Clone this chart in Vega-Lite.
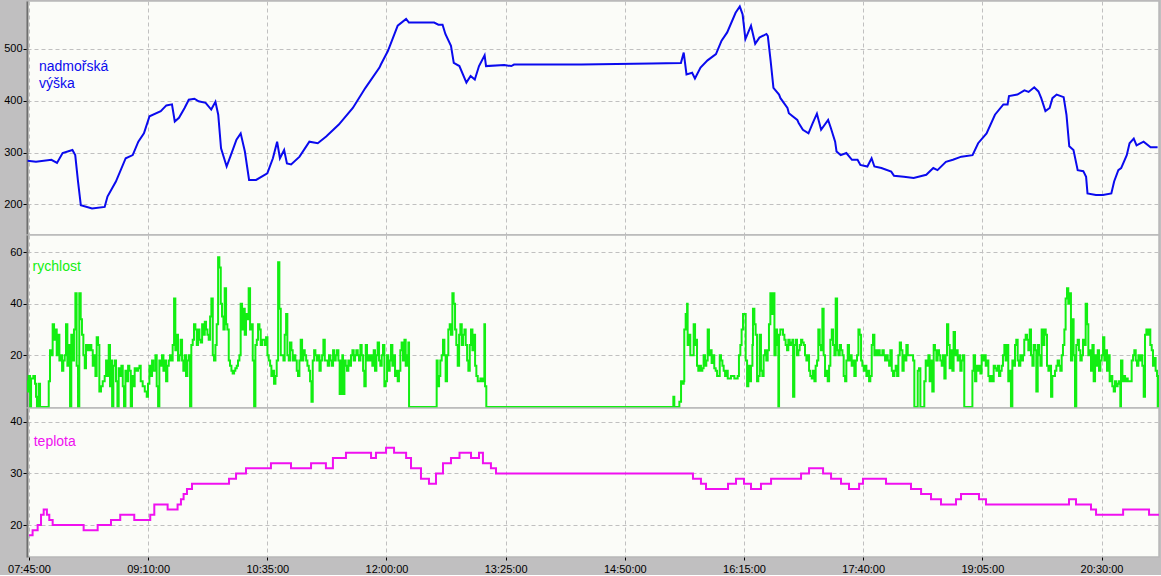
{
"$schema": "https://vega.github.io/schema/vega-lite/v6.json",
"background": "#c0bfc0",
"padding": {"left": 2, "top": 0, "right": 3, "bottom": 0},
"spacing": 0,
"bounds": "flush",
"config": {
  "view": {"fill": "#fbfcf8", "stroke": "#b8b8b8", "strokeWidth": 1.5},
  "axis": {"title": null, "labelFont": "Liberation Sans", "labelFontSize": 11, "labelColor": "#000000", "tickColor": "#000000", "gridColor": "#c0c0c0", "gridDash": [4, 3], "gridWidth": 1},
  "axisY": {"tickSize": 4, "labelPadding": 1, "domain": true, "domainColor": "#6e6e6e", "domainWidth": 2, "minExtent": 24, "maxExtent": 24},
  "concat": {"spacing": 0}
},
"datasets": {
  "alt": [{"t":464,"v":284},{"t":470,"v":282},{"t":481,"v":286},{"t":485,"v":280},{"t":489,"v":299},{"t":496,"v":305},{"t":498,"v":295},{"t":500,"v":244},{"t":502,"v":198},{"t":510,"v":192},{"t":519,"v":195},{"t":521,"v":215},{"t":527,"v":244},{"t":534,"v":289},{"t":539,"v":295},{"t":543,"v":321},{"t":547,"v":337},{"t":551,"v":370},{"t":559,"v":380},{"t":563,"v":391},{"t":567,"v":393},{"t":569,"v":360},{"t":572,"v":367},{"t":576,"v":386},{"t":579,"v":402},{"t":583,"v":404},{"t":586,"v":399},{"t":591,"v":396},{"t":595,"v":383},{"t":598,"v":398},{"t":600,"v":373},{"t":602,"v":308},{"t":606,"v":273},{"t":609,"v":295},{"t":613,"v":325},{"t":616,"v":337},{"t":619,"v":302},{"t":622,"v":247},{"t":627,"v":247},{"t":635,"v":260},{"t":639,"v":289},{"t":642,"v":321},{"t":644,"v":289},{"t":647,"v":305},{"t":649,"v":279},{"t":652,"v":277},{"t":658,"v":292},{"t":665,"v":321},{"t":671,"v":318},{"t":677,"v":331},{"t":686,"v":354},{"t":696,"v":386},{"t":705,"v":425},{"t":715,"v":464},{"t":716,"v":470},{"t":721,"v":496},{"t":728,"v":545},{"t":734,"v":558},{"t":736,"v":551},{"t":754,"v":551},{"t":757,"v":547},{"t":760,"v":547},{"t":762,"v":529},{"t":766,"v":506},{"t":768,"v":473},{"t":772,"v":467},{"t":777,"v":435},{"t":780,"v":448},{"t":783,"v":441},{"t":786,"v":467},{"t":790,"v":488},{"t":791,"v":467},{"t":804,"v":469},{"t":809,"v":467},{"t":811,"v":470},{"t":859,"v":470},{"t":909,"v":472},{"t":930,"v":473},{"t":932,"v":493},{"t":934,"v":451},{"t":938,"v":454},{"t":940,"v":443},{"t":944,"v":464},{"t":949,"v":478},{"t":955,"v":490},{"t":959,"v":516},{"t":963,"v":532},{"t":969,"v":570},{"t":972,"v":582},{"t":974,"v":567},{"t":976,"v":519},{"t":980,"v":545},{"t":983,"v":510},{"t":986,"v":522},{"t":991,"v":529},{"t":992,"v":525},{"t":994,"v":477},{"t":996,"v":425},{"t":1000,"v":412},{"t":1001,"v":405},{"t":1006,"v":386},{"t":1007,"v":376},{"t":1013,"v":363},{"t":1014,"v":357},{"t":1017,"v":344},{"t":1021,"v":337},{"t":1024,"v":357},{"t":1027,"v":375},{"t":1030,"v":344},{"t":1035,"v":363},{"t":1037,"v":347},{"t":1040,"v":321},{"t":1041,"v":302},{"t":1044,"v":295},{"t":1048,"v":299},{"t":1052,"v":286},{"t":1056,"v":286},{"t":1058,"v":276},{"t":1063,"v":273},{"t":1066,"v":289},{"t":1068,"v":273},{"t":1073,"v":270},{"t":1080,"v":263},{"t":1082,"v":255},{"t":1089,"v":253},{"t":1096,"v":251},{"t":1105,"v":257},{"t":1110,"v":270},{"t":1113,"v":266},{"t":1119,"v":282},{"t":1124,"v":286},{"t":1130,"v":292},{"t":1138,"v":295},{"t":1142,"v":318},{"t":1148,"v":337},{"t":1154,"v":373},{"t":1160,"v":393},{"t":1163,"v":393},{"t":1164,"v":409},{"t":1170,"v":412},{"t":1175,"v":420},{"t":1178,"v":417},{"t":1182,"v":426},{"t":1185,"v":418},{"t":1187,"v":405},{"t":1190,"v":380},{"t":1193,"v":386},{"t":1195,"v":405},{"t":1198,"v":412},{"t":1203,"v":407},{"t":1205,"v":373},{"t":1207,"v":312},{"t":1210,"v":305},{"t":1213,"v":266},{"t":1217,"v":264},{"t":1219,"v":253},{"t":1220,"v":221},{"t":1226,"v":218},{"t":1231,"v":218},{"t":1237,"v":221},{"t":1239,"v":244},{"t":1242,"v":266},{"t":1244,"v":270},{"t":1248,"v":295},{"t":1250,"v":318},{"t":1253,"v":327},{"t":1255,"v":314},{"t":1260,"v":321},{"t":1265,"v":310},{"t":1270,"v":310}],
  "spd": [{"t":462.9,"v":10},{"t":464.1,"v":6},{"t":464.8,"v":12},{"t":465.8,"v":0},{"t":466.5,"v":11},{"t":468.1,"v":12},{"t":469.3,"v":9},{"t":470.0,"v":4},{"t":470.7,"v":0},{"t":471.9,"v":9},{"t":472.9,"v":0},{"t":478.4,"v":0},{"t":479.1,"v":10},{"t":480.0,"v":22},{"t":481.0,"v":20},{"t":481.9,"v":32},{"t":482.9,"v":26},{"t":483.8,"v":30},{"t":484.8,"v":20},{"t":485.7,"v":28},{"t":486.7,"v":18},{"t":487.6,"v":20},{"t":488.6,"v":14},{"t":489.5,"v":18},{"t":490.5,"v":20},{"t":491.4,"v":32},{"t":492.4,"v":16},{"t":493.3,"v":24},{"t":494.3,"v":0},{"t":495.2,"v":28},{"t":496.2,"v":18},{"t":497.1,"v":30},{"t":498.1,"v":44},{"t":499.0,"v":16},{"t":500.0,"v":0},{"t":500.9,"v":44},{"t":501.9,"v":34},{"t":502.8,"v":28},{"t":503.8,"v":20},{"t":504.8,"v":15},{"t":505.7,"v":24},{"t":506.7,"v":22},{"t":508.1,"v":24},{"t":509.5,"v":22},{"t":510.5,"v":16},{"t":511.4,"v":20},{"t":512.4,"v":12},{"t":513.3,"v":27},{"t":514.3,"v":24},{"t":515.2,"v":6},{"t":516.4,"v":8},{"t":517.6,"v":10},{"t":519.0,"v":12},{"t":520.0,"v":18},{"t":520.9,"v":12},{"t":521.9,"v":24},{"t":522.8,"v":8},{"t":523.8,"v":18},{"t":524.3,"v":0},{"t":525.2,"v":16},{"t":526.2,"v":18},{"t":527.1,"v":10},{"t":528.1,"v":0},{"t":529.0,"v":15},{"t":530.0,"v":12},{"t":530.9,"v":16},{"t":531.9,"v":8},{"t":532.8,"v":0},{"t":533.8,"v":14},{"t":534.7,"v":10},{"t":535.7,"v":16},{"t":536.6,"v":14},{"t":537.6,"v":0},{"t":538.5,"v":12},{"t":539.5,"v":8},{"t":540.4,"v":15},{"t":541.4,"v":14},{"t":542.8,"v":15},{"t":543.8,"v":16},{"t":544.7,"v":10},{"t":546.1,"v":8},{"t":547.6,"v":6},{"t":549.0,"v":4},{"t":549.9,"v":9},{"t":550.9,"v":16},{"t":551.8,"v":12},{"t":552.8,"v":18},{"t":553.7,"v":14},{"t":555.2,"v":20},{"t":556.1,"v":8},{"t":557.1,"v":0},{"t":558.0,"v":18},{"t":559.0,"v":16},{"t":559.9,"v":20},{"t":560.9,"v":14},{"t":561.8,"v":18},{"t":562.8,"v":10},{"t":563.7,"v":16},{"t":564.7,"v":18},{"t":565.6,"v":20},{"t":566.6,"v":18},{"t":567.5,"v":24},{"t":568.5,"v":42},{"t":569.4,"v":22},{"t":570.4,"v":28},{"t":571.3,"v":18},{"t":572.3,"v":20},{"t":573.2,"v":26},{"t":574.2,"v":18},{"t":575.1,"v":14},{"t":576.1,"v":20},{"t":577.0,"v":12},{"t":578.0,"v":18},{"t":578.9,"v":20},{"t":579.9,"v":0},{"t":580.8,"v":24},{"t":581.8,"v":26},{"t":582.7,"v":32},{"t":583.7,"v":30},{"t":584.7,"v":24},{"t":585.6,"v":30},{"t":586.6,"v":26},{"t":587.5,"v":25},{"t":588.5,"v":32},{"t":589.4,"v":28},{"t":590.4,"v":33},{"t":591.3,"v":30},{"t":592.3,"v":28},{"t":593.2,"v":26},{"t":594.2,"v":35},{"t":595.1,"v":42},{"t":596.1,"v":20},{"t":597.0,"v":18},{"t":598.0,"v":24},{"t":598.9,"v":32},{"t":599.9,"v":58},{"t":600.8,"v":54},{"t":601.8,"v":40},{"t":602.7,"v":35},{"t":603.7,"v":30},{"t":604.6,"v":46},{"t":605.6,"v":32},{"t":606.5,"v":30},{"t":607.5,"v":18},{"t":608.4,"v":16},{"t":609.4,"v":14},{"t":610.3,"v":13},{"t":611.3,"v":14},{"t":612.2,"v":15},{"t":613.2,"v":16},{"t":614.1,"v":18},{"t":615.1,"v":20},{"t":616.0,"v":40},{"t":617.0,"v":30},{"t":617.9,"v":38},{"t":618.9,"v":28},{"t":619.8,"v":36},{"t":620.8,"v":34},{"t":621.7,"v":46},{"t":622.7,"v":30},{"t":623.7,"v":32},{"t":624.6,"v":18},{"t":625.6,"v":0},{"t":626.5,"v":24},{"t":627.5,"v":26},{"t":628.4,"v":32},{"t":629.4,"v":30},{"t":630.3,"v":24},{"t":631.3,"v":26},{"t":632.2,"v":26},{"t":633.2,"v":24},{"t":634.1,"v":27},{"t":635.1,"v":20},{"t":636.0,"v":18},{"t":637.0,"v":16},{"t":637.9,"v":12},{"t":638.9,"v":14},{"t":639.8,"v":9},{"t":640.8,"v":12},{"t":641.7,"v":18},{"t":642.7,"v":56},{"t":643.6,"v":38},{"t":644.6,"v":20},{"t":645.5,"v":20},{"t":646.5,"v":18},{"t":647.4,"v":28},{"t":648.4,"v":36},{"t":649.3,"v":20},{"t":650.3,"v":18},{"t":651.2,"v":25},{"t":652.2,"v":22},{"t":653.1,"v":18},{"t":654.1,"v":20},{"t":655.0,"v":18},{"t":656.0,"v":14},{"t":656.9,"v":12},{"t":657.9,"v":18},{"t":658.8,"v":26},{"t":659.8,"v":18},{"t":660.7,"v":22},{"t":661.7,"v":20},{"t":662.7,"v":18},{"t":663.6,"v":16},{"t":664.6,"v":14},{"t":665.5,"v":10},{"t":666.5,"v":2},{"t":667.4,"v":18},{"t":668.4,"v":22},{"t":669.3,"v":20},{"t":670.3,"v":18},{"t":671.2,"v":20},{"t":672.2,"v":14},{"t":673.1,"v":18},{"t":674.1,"v":20},{"t":675.0,"v":26},{"t":676.0,"v":18},{"t":676.9,"v":18},{"t":678.1,"v":16},{"t":679.0,"v":20},{"t":680.0,"v":18},{"t":680.9,"v":16},{"t":681.9,"v":22},{"t":682.8,"v":18},{"t":683.8,"v":20},{"t":684.7,"v":22},{"t":685.7,"v":18},{"t":686.6,"v":5},{"t":687.6,"v":18},{"t":688.5,"v":20},{"t":689.0,"v":5},{"t":690.0,"v":18},{"t":690.9,"v":16},{"t":691.8,"v":14},{"t":692.8,"v":18},{"t":693.8,"v":16},{"t":694.7,"v":20},{"t":695.7,"v":22},{"t":696.6,"v":18},{"t":697.6,"v":20},{"t":698.5,"v":22},{"t":699.5,"v":20},{"t":700.4,"v":18},{"t":701.4,"v":24},{"t":702.3,"v":20},{"t":703.3,"v":14},{"t":704.2,"v":8},{"t":705.2,"v":24},{"t":706.1,"v":18},{"t":707.1,"v":20},{"t":708.0,"v":18},{"t":709.0,"v":20},{"t":709.9,"v":16},{"t":710.9,"v":22},{"t":711.8,"v":14},{"t":712.8,"v":20},{"t":713.7,"v":25},{"t":714.7,"v":18},{"t":715.6,"v":16},{"t":716.6,"v":20},{"t":717.5,"v":24},{"t":718.5,"v":8},{"t":719.4,"v":10},{"t":720.4,"v":20},{"t":721.3,"v":14},{"t":722.3,"v":18},{"t":723.2,"v":24},{"t":724.2,"v":16},{"t":725.1,"v":20},{"t":726.1,"v":12},{"t":727.0,"v":14},{"t":728.0,"v":10},{"t":728.9,"v":14},{"t":729.9,"v":22},{"t":730.8,"v":25},{"t":731.8,"v":18},{"t":732.8,"v":26},{"t":733.7,"v":16},{"t":734.7,"v":20},{"t":735.6,"v":25},{"t":736.1,"v":0},{"t":755.3,"v":0},{"t":755.8,"v":18},{"t":756.5,"v":8},{"t":757.5,"v":12},{"t":758.4,"v":18},{"t":759.4,"v":20},{"t":760.3,"v":26},{"t":761.3,"v":20},{"t":762.2,"v":10},{"t":763.2,"v":20},{"t":764.1,"v":30},{"t":765.1,"v":32},{"t":766.0,"v":28},{"t":767.0,"v":44},{"t":767.9,"v":40},{"t":768.9,"v":30},{"t":769.8,"v":24},{"t":770.8,"v":16},{"t":771.8,"v":28},{"t":772.7,"v":32},{"t":773.7,"v":24},{"t":774.6,"v":28},{"t":775.6,"v":30},{"t":776.5,"v":24},{"t":777.5,"v":18},{"t":778.4,"v":14},{"t":779.4,"v":24},{"t":780.3,"v":30},{"t":781.3,"v":22},{"t":782.2,"v":28},{"t":783.2,"v":16},{"t":784.1,"v":12},{"t":785.1,"v":10},{"t":786.0,"v":10},{"t":787.0,"v":11},{"t":787.9,"v":10},{"t":788.9,"v":11},{"t":789.8,"v":32},{"t":790.3,"v":8},{"t":791.2,"v":0},{"t":924.1,"v":0},{"t":924.6,"v":4},{"t":925.3,"v":0},{"t":928.9,"v":2},{"t":930.1,"v":10},{"t":931.0,"v":9},{"t":932.0,"v":10},{"t":932.4,"v":30},{"t":933.4,"v":36},{"t":934.4,"v":40},{"t":934.8,"v":24},{"t":935.8,"v":28},{"t":936.7,"v":20},{"t":937.7,"v":20},{"t":938.6,"v":20},{"t":939.1,"v":32},{"t":940.1,"v":24},{"t":941.0,"v":26},{"t":941.5,"v":16},{"t":942.4,"v":14},{"t":943.4,"v":16},{"t":944.3,"v":14},{"t":945.3,"v":15},{"t":946.2,"v":20},{"t":947.2,"v":16},{"t":948.1,"v":18},{"t":949.1,"v":30},{"t":950.0,"v":20},{"t":951.0,"v":22},{"t":951.9,"v":17},{"t":952.9,"v":20},{"t":953.8,"v":15},{"t":954.8,"v":14},{"t":955.8,"v":12},{"t":956.7,"v":12},{"t":957.7,"v":20},{"t":958.6,"v":18},{"t":959.6,"v":16},{"t":960.5,"v":14},{"t":961.5,"v":12},{"t":962.4,"v":14},{"t":963.4,"v":11},{"t":965.7,"v":12},{"t":968.1,"v":11},{"t":970.5,"v":12},{"t":971.4,"v":20},{"t":972.4,"v":24},{"t":973.3,"v":30},{"t":974.3,"v":36},{"t":975.3,"v":36},{"t":976.2,"v":18},{"t":977.2,"v":8},{"t":978.1,"v":16},{"t":979.1,"v":10},{"t":980.0,"v":16},{"t":981.0,"v":24},{"t":981.4,"v":38},{"t":982.4,"v":32},{"t":983.3,"v":28},{"t":984.3,"v":10},{"t":985.2,"v":12},{"t":986.2,"v":28},{"t":987.1,"v":14},{"t":988.1,"v":12},{"t":989.0,"v":20},{"t":990.0,"v":22},{"t":990.9,"v":18},{"t":991.9,"v":22},{"t":992.8,"v":32},{"t":993.8,"v":44},{"t":994.7,"v":36},{"t":995.7,"v":44},{"t":996.7,"v":20},{"t":997.6,"v":30},{"t":998.6,"v":24},{"t":999.5,"v":0},{"t":1000.0,"v":28},{"t":1000.9,"v":30},{"t":1001.9,"v":30},{"t":1002.8,"v":28},{"t":1003.8,"v":26},{"t":1004.7,"v":24},{"t":1005.7,"v":22},{"t":1006.6,"v":26},{"t":1007.6,"v":24},{"t":1008.5,"v":25},{"t":1009.5,"v":26},{"t":1010.0,"v":4},{"t":1010.9,"v":24},{"t":1011.9,"v":26},{"t":1012.8,"v":20},{"t":1013.8,"v":22},{"t":1014.7,"v":24},{"t":1015.7,"v":26},{"t":1016.6,"v":25},{"t":1017.6,"v":24},{"t":1018.5,"v":20},{"t":1019.5,"v":18},{"t":1020.4,"v":20},{"t":1021.4,"v":14},{"t":1022.3,"v":12},{"t":1023.3,"v":11},{"t":1024.2,"v":14},{"t":1025.2,"v":10},{"t":1026.1,"v":16},{"t":1027.1,"v":18},{"t":1028.0,"v":30},{"t":1029.0,"v":24},{"t":1029.9,"v":22},{"t":1030.9,"v":38},{"t":1031.8,"v":20},{"t":1032.8,"v":12},{"t":1033.8,"v":14},{"t":1034.7,"v":10},{"t":1035.7,"v":16},{"t":1036.6,"v":26},{"t":1037.6,"v":30},{"t":1038.5,"v":24},{"t":1039.5,"v":20},{"t":1040.4,"v":42},{"t":1041.4,"v":22},{"t":1042.3,"v":20},{"t":1043.3,"v":24},{"t":1044.2,"v":22},{"t":1045.2,"v":20},{"t":1046.1,"v":12},{"t":1047.1,"v":10},{"t":1048.0,"v":18},{"t":1049.0,"v":24},{"t":1049.9,"v":18},{"t":1050.9,"v":20},{"t":1051.8,"v":16},{"t":1052.8,"v":18},{"t":1053.7,"v":12},{"t":1054.7,"v":18},{"t":1055.6,"v":20},{"t":1056.6,"v":30},{"t":1057.5,"v":28},{"t":1058.5,"v":18},{"t":1059.4,"v":16},{"t":1060.4,"v":14},{"t":1061.3,"v":16},{"t":1062.3,"v":12},{"t":1063.2,"v":14},{"t":1064.2,"v":10},{"t":1065.1,"v":12},{"t":1066.1,"v":24},{"t":1067.0,"v":28},{"t":1068.0,"v":20},{"t":1069.0,"v":22},{"t":1069.9,"v":20},{"t":1070.9,"v":22},{"t":1071.8,"v":20},{"t":1072.7,"v":20},{"t":1073.7,"v":22},{"t":1074.7,"v":20},{"t":1075.6,"v":18},{"t":1076.6,"v":20},{"t":1077.5,"v":18},{"t":1078.5,"v":16},{"t":1079.4,"v":22},{"t":1080.4,"v":14},{"t":1081.3,"v":12},{"t":1082.3,"v":14},{"t":1083.2,"v":16},{"t":1084.2,"v":12},{"t":1085.1,"v":20},{"t":1086.1,"v":25},{"t":1087.0,"v":22},{"t":1088.0,"v":14},{"t":1088.9,"v":20},{"t":1089.9,"v":18},{"t":1090.8,"v":24},{"t":1091.8,"v":20},{"t":1092.7,"v":20},{"t":1094.2,"v":20},{"t":1095.6,"v":18},{"t":1096.5,"v":0},{"t":1098.9,"v":14},{"t":1099.8,"v":15},{"t":1100.8,"v":0},{"t":1102.7,"v":0},{"t":1103.6,"v":10},{"t":1104.6,"v":18},{"t":1105.5,"v":16},{"t":1106.5,"v":20},{"t":1107.4,"v":10},{"t":1108.4,"v":18},{"t":1109.3,"v":6},{"t":1110.3,"v":24},{"t":1111.2,"v":22},{"t":1112.2,"v":18},{"t":1113.1,"v":22},{"t":1114.1,"v":20},{"t":1115.0,"v":18},{"t":1116.0,"v":16},{"t":1116.9,"v":20},{"t":1117.9,"v":11},{"t":1118.8,"v":20},{"t":1119.8,"v":32},{"t":1120.7,"v":24},{"t":1121.7,"v":15},{"t":1122.6,"v":22},{"t":1123.6,"v":14},{"t":1124.5,"v":29},{"t":1125.5,"v":20},{"t":1126.4,"v":22},{"t":1127.4,"v":18},{"t":1128.3,"v":20},{"t":1129.3,"v":14},{"t":1130.2,"v":18},{"t":1131.2,"v":20},{"t":1132.1,"v":0},{"t":1137.9,"v":14},{"t":1138.8,"v":20},{"t":1139.8,"v":10},{"t":1140.7,"v":16},{"t":1141.7,"v":14},{"t":1142.6,"v":16},{"t":1143.6,"v":13},{"t":1144.5,"v":20},{"t":1145.5,"v":18},{"t":1146.4,"v":20},{"t":1147.4,"v":16},{"t":1148.3,"v":18},{"t":1149.3,"v":12},{"t":1150.2,"v":10},{"t":1151.2,"v":12},{"t":1152.1,"v":10},{"t":1153.1,"v":16},{"t":1154.0,"v":15},{"t":1155.0,"v":14},{"t":1155.9,"v":16},{"t":1156.9,"v":12},{"t":1157.8,"v":14},{"t":1158.8,"v":16},{"t":1159.7,"v":20},{"t":1160.7,"v":24},{"t":1161.6,"v":18},{"t":1162.6,"v":24},{"t":1163.5,"v":10},{"t":1164.5,"v":14},{"t":1165.4,"v":0},{"t":1166.4,"v":18},{"t":1167.3,"v":16},{"t":1168.3,"v":24},{"t":1169.2,"v":26},{"t":1170.2,"v":18},{"t":1171.1,"v":16},{"t":1172.1,"v":20},{"t":1173.0,"v":18},{"t":1174.0,"v":20},{"t":1174.9,"v":26},{"t":1175.9,"v":28},{"t":1176.9,"v":26},{"t":1177.8,"v":22},{"t":1178.8,"v":30},{"t":1179.7,"v":20},{"t":1180.7,"v":16},{"t":1181.6,"v":24},{"t":1182.6,"v":22},{"t":1183.5,"v":6},{"t":1184.5,"v":24},{"t":1185.4,"v":20},{"t":1186.4,"v":16},{"t":1187.3,"v":30},{"t":1188.3,"v":24},{"t":1189.2,"v":30},{"t":1190.2,"v":28},{"t":1191.1,"v":16},{"t":1192.1,"v":14},{"t":1193.0,"v":16},{"t":1194.0,"v":4},{"t":1194.9,"v":12},{"t":1195.9,"v":12},{"t":1196.8,"v":14},{"t":1197.8,"v":16},{"t":1198.7,"v":18},{"t":1199.7,"v":16},{"t":1200.6,"v":14},{"t":1201.6,"v":20},{"t":1202.5,"v":24},{"t":1203.5,"v":30},{"t":1204.4,"v":42},{"t":1205.4,"v":46},{"t":1206.3,"v":40},{"t":1207.3,"v":44},{"t":1208.2,"v":18},{"t":1209.2,"v":34},{"t":1210.1,"v":20},{"t":1211.1,"v":0},{"t":1212.0,"v":24},{"t":1213.0,"v":26},{"t":1213.9,"v":22},{"t":1214.9,"v":18},{"t":1215.9,"v":20},{"t":1216.8,"v":26},{"t":1217.8,"v":24},{"t":1218.7,"v":40},{"t":1219.7,"v":32},{"t":1220.6,"v":20},{"t":1221.6,"v":22},{"t":1222.5,"v":14},{"t":1223.5,"v":24},{"t":1224.4,"v":10},{"t":1225.4,"v":20},{"t":1226.3,"v":16},{"t":1227.3,"v":22},{"t":1228.2,"v":14},{"t":1229.2,"v":18},{"t":1230.1,"v":20},{"t":1231.1,"v":27},{"t":1232.0,"v":18},{"t":1233.0,"v":22},{"t":1233.9,"v":14},{"t":1234.9,"v":20},{"t":1235.8,"v":10},{"t":1236.8,"v":12},{"t":1237.7,"v":8},{"t":1238.7,"v":6},{"t":1239.6,"v":10},{"t":1240.6,"v":8},{"t":1241.5,"v":9},{"t":1242.5,"v":10},{"t":1243.4,"v":0},{"t":1243.9,"v":18},{"t":1244.9,"v":10},{"t":1245.8,"v":12},{"t":1246.8,"v":10},{"t":1247.7,"v":11},{"t":1248.7,"v":10},{"t":1249.6,"v":10},{"t":1250.6,"v":10},{"t":1251.5,"v":18},{"t":1252.5,"v":20},{"t":1253.4,"v":22},{"t":1254.4,"v":18},{"t":1255.3,"v":16},{"t":1256.3,"v":20},{"t":1257.2,"v":18},{"t":1258.2,"v":20},{"t":1259.1,"v":16},{"t":1260.1,"v":4},{"t":1261.0,"v":28},{"t":1262.0,"v":30},{"t":1262.9,"v":28},{"t":1263.9,"v":30},{"t":1264.8,"v":24},{"t":1265.8,"v":22},{"t":1266.7,"v":16},{"t":1267.7,"v":19},{"t":1268.6,"v":14},{"t":1269.6,"v":12},{"t":1270.1,"v":0},{"t":1271.0,"v":12},{"t":1272.0,"v":18}],
  "tmp": [{"t":465,"v":18},{"t":467.6,"v":19},{"t":471.2,"v":20},{"t":473.6,"v":22},{"t":475.5,"v":23},{"t":477.8,"v":22},{"t":479.5,"v":21},{"t":481.9,"v":20},{"t":504.0,"v":19},{"t":514.0,"v":20},{"t":523.5,"v":21},{"t":530.1,"v":22},{"t":540.1,"v":21},{"t":551.5,"v":22},{"t":554.4,"v":24},{"t":563.9,"v":23},{"t":571.0,"v":24},{"t":573.4,"v":25},{"t":575.3,"v":26},{"t":577.7,"v":27},{"t":581.3,"v":28},{"t":607.7,"v":29},{"t":612.7,"v":30},{"t":619.8,"v":31},{"t":637.6,"v":32},{"t":651.9,"v":31},{"t":666.2,"v":32},{"t":676.8,"v":31},{"t":681.8,"v":33},{"t":691.1,"v":34},{"t":709.0,"v":33},{"t":712.5,"v":34},{"t":719.7,"v":35},{"t":725.4,"v":34},{"t":734.0,"v":33},{"t":737.5,"v":31},{"t":744.6,"v":29},{"t":750.3,"v":28},{"t":755.3,"v":30},{"t":760.3,"v":32},{"t":766.0,"v":33},{"t":772.1,"v":34},{"t":780.3,"v":33},{"t":786.0,"v":34},{"t":788.8,"v":32},{"t":794.5,"v":31},{"t":798.1,"v":30},{"t":938.6,"v":29},{"t":944.3,"v":28},{"t":947.9,"v":27},{"t":963.6,"v":28},{"t":969.3,"v":29},{"t":975.0,"v":28},{"t":980.0,"v":27},{"t":987.1,"v":28},{"t":994.3,"v":29},{"t":1015.7,"v":30},{"t":1021.4,"v":31},{"t":1031.4,"v":30},{"t":1037.1,"v":29},{"t":1044.2,"v":28},{"t":1049.9,"v":27},{"t":1057.1,"v":28},{"t":1059.9,"v":29},{"t":1076.3,"v":28},{"t":1094.1,"v":27},{"t":1101.3,"v":26},{"t":1108.4,"v":25},{"t":1115.5,"v":24},{"t":1126.2,"v":25},{"t":1129.8,"v":26},{"t":1142.6,"v":25},{"t":1147.6,"v":24},{"t":1206.8,"v":25},{"t":1211.8,"v":24},{"t":1222.5,"v":23},{"t":1226.1,"v":22},{"t":1245.4,"v":23},{"t":1263.9,"v":22},{"t":1271,"v":22}]
},
"vconcat": [
  {
    "width": 1132, "height": 234,
    "layer": [
      {
        "data": {"name": "alt"},
        "mark": {"type": "line", "color": "#0a0aee", "strokeWidth": 2, "clip": true},
        "encoding": {
          "x": {"field": "t", "type": "quantitative", "scale": {"domain": [463.6, 1271], "nice": false, "zero": false}, "axis": {"values": [465, 550, 635, 720, 805, 890, 975, 1060, 1145, 1230], "labels": false, "ticks": false, "domain": false, "grid": true}},
          "y": {"field": "v", "type": "quantitative", "scale": {"domain": [140.7, 592.7], "nice": false, "zero": false}, "axis": {"values": [200, 300, 400, 500], "grid": true}}
        }
      },
      {
        "data": {"values": [{}]},
        "mark": {"type": "text", "color": "#0a0aee", "font": "Liberation Sans", "fontSize": 14, "align": "left", "baseline": "alphabetic", "lineHeight": 17},
        "encoding": {"x": {"datum": 472.1}, "y": {"datum": 457}, "text": {"value": ["nadmořská", "výška"]}}
      }
    ]
  },
  {
    "width": 1132, "height": 173,
    "layer": [
      {
        "data": {"name": "spd"},
        "mark": {"type": "line", "color": "#12ee12", "strokeWidth": 2, "interpolate": "step-after", "clip": true},
        "encoding": {
          "x": {"field": "t", "type": "quantitative", "scale": {"domain": [463.6, 1271], "nice": false, "zero": false}, "axis": {"values": [465, 550, 635, 720, 805, 890, 975, 1060, 1145, 1230], "labels": false, "ticks": false, "domain": false, "grid": true}},
          "y": {"field": "v", "type": "quantitative", "scale": {"domain": [-0.4, 66.6], "nice": false, "zero": false}, "axis": {"values": [20, 40, 60], "grid": true}}
        }
      },
      {
        "data": {"values": [{}]},
        "mark": {"type": "text", "color": "#12ee12", "font": "Liberation Sans", "fontSize": 14, "align": "left", "baseline": "alphabetic"},
        "encoding": {"x": {"datum": 467.6}, "y": {"datum": 52.7}, "text": {"value": "rychlost"}}
      }
    ]
  },
  {
    "width": 1132, "height": 149,
    "layer": [
      {
        "data": {"name": "tmp"},
        "mark": {"type": "line", "color": "#f010f0", "strokeWidth": 2, "interpolate": "step-after", "clip": true},
        "encoding": {
          "x": {"field": "t", "type": "quantitative", "scale": {"domain": [463.6, 1271], "nice": false, "zero": false}, "axis": {"values": [465, 550, 635, 720, 805, 890, 975, 1060, 1145, 1230], "domain": false, "grid": true, "tickSize": 3, "labelPadding": 3, "labelExpr": "(datum.value < 600 ? '0' : '') + floor(datum.value / 60) + ':' + (datum.value % 60 < 10 ? '0' : '') + (datum.value % 60) + ':00'"}},
          "y": {"field": "v", "type": "quantitative", "scale": {"domain": [13.8, 42.7], "nice": false, "zero": false}, "axis": {"values": [20, 30, 40], "grid": true}}
        }
      },
      {
        "data": {"values": [{}]},
        "mark": {"type": "text", "color": "#f010f0", "font": "Liberation Sans", "fontSize": 14, "align": "left", "baseline": "alphabetic"},
        "encoding": {"x": {"datum": 468.4}, "y": {"datum": 35.3}, "text": {"value": "teplota"}}
      }
    ]
  }
]
}
